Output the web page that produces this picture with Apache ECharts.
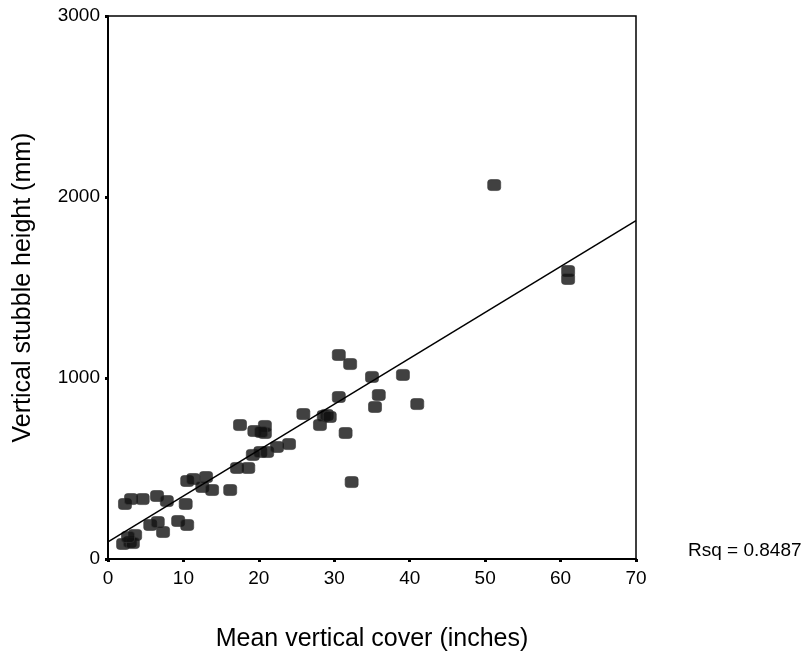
<!DOCTYPE html>
<html>
<head>
<meta charset="utf-8">
<script src="https://cdn.jsdelivr.net/npm/echarts@6/dist/echarts.min.js"></script>
<style>
  html, body { margin: 0; padding: 0; background: #fff; }
  #chart { width: 809px; height: 660px; }
</style>
</head>
<body>
<div id="chart"></div>
<script>
// mean vertical cover (inches)
const coverX = [2.0, 2.9, 3.6, 3.3, 2.65,
  2.25, 3.05, 4.6, 6.5, 7.8, 10.3, 10.5, 11.3, 13.0, 12.5, 13.8,
  5.6, 6.6, 7.3, 9.3, 10.5,
  16.2, 17.1, 18.6, 19.2, 20.2, 21.1, 22.4, 24.0,
  17.5, 19.4, 20.8, 20.8, 20.3,
  25.9, 28.1, 28.6, 29.0, 29.4,
  30.6, 32.1, 35.0, 30.6, 35.9, 35.4, 31.5, 32.3, 39.1, 41.0,
  51.2, 61.0, 61.0];
// vertical stubble height (mm)
const stubbleY = [83, 94, 133, 88, 122,
  304, 331, 331, 348, 320, 304, 431, 442, 453, 398, 381,
  188, 204, 149, 210, 188,
  381, 503, 503, 575, 591, 591, 619, 635,
  740, 707, 735, 696, 702,
  801, 740, 790, 796, 785,
  1127, 1077, 1006, 895, 906, 840, 696, 425, 1017, 856,
  2066, 1591, 1547];

const xTicks = [0, 10, 20, 30, 40, 50, 60, 70];
const yTicks = [0, 1000, 2000, 3000];

// fitted line
const fitIntercept = 95;
const fitSlope = 25.35;
const rsqText = 'Rsq = 0.8487';

const points = coverX.map((x, i) => [x, stubbleY[i]]);
const fitLine = [0, 70].map(x => [x, fitIntercept + fitSlope * x]);

const chart = echarts.init(document.getElementById('chart'));
const font = 'Liberation Sans, Arial, sans-serif';

chart.setOption({
  animation: false,
  grid: {
    left: 108, top: 16, right: 173, bottom: 101,
    show: true, borderColor: '#000', borderWidth: 1.5, backgroundColor: '#fff'
  },
  xAxis: {
    type: 'value',
    min: xTicks[0], max: xTicks[xTicks.length - 1], interval: 10,
    name: 'Mean vertical cover (inches)',
    nameLocation: 'middle', nameGap: 68,
    nameTextStyle: { fontFamily: font, fontSize: 25, color: '#000' },
    axisLine: { show: true, lineStyle: { color: '#000', width: 2 } },
    axisTick: { show: true, length: 3, lineStyle: { color: '#000', width: 3 } },
    axisLabel: { fontFamily: font, fontSize: 19, color: '#000', margin: 10 },
    splitLine: { show: false }
  },
  yAxis: {
    type: 'value',
    min: yTicks[0], max: yTicks[yTicks.length - 1], interval: 1000,
    name: 'Vertical stubble height (mm)',
    nameLocation: 'middle', nameGap: 72,
    nameTextStyle: { fontFamily: font, fontSize: 25, color: '#000' },
    axisLine: { show: true, lineStyle: { color: '#000', width: 2 } },
    axisTick: { show: true, length: 3, lineStyle: { color: '#000', width: 3 } },
    axisLabel: {
      fontFamily: font, fontSize: 19, color: '#000', margin: 8,
      formatter: v => String(v)
    },
    splitLine: { show: false }
  },
  graphic: [{
    type: 'text', left: 688, top: 541,
    style: { text: rsqText, font: '19px ' + font, fill: '#000' }
  }],
  series: [
    {
      type: 'scatter',
      data: points,
      symbol: 'roundRect',
      symbolSize: [13, 11],
      itemStyle: { color: '#111', borderColor: '#3a3a3a', borderWidth: 0.8 },
      z: 3
    },
    {
      type: 'line',
      data: fitLine,
      symbol: 'none',
      lineStyle: { color: '#000', width: 1.5 },
      z: 4
    }
  ]
});
</script>
</body>
</html>
